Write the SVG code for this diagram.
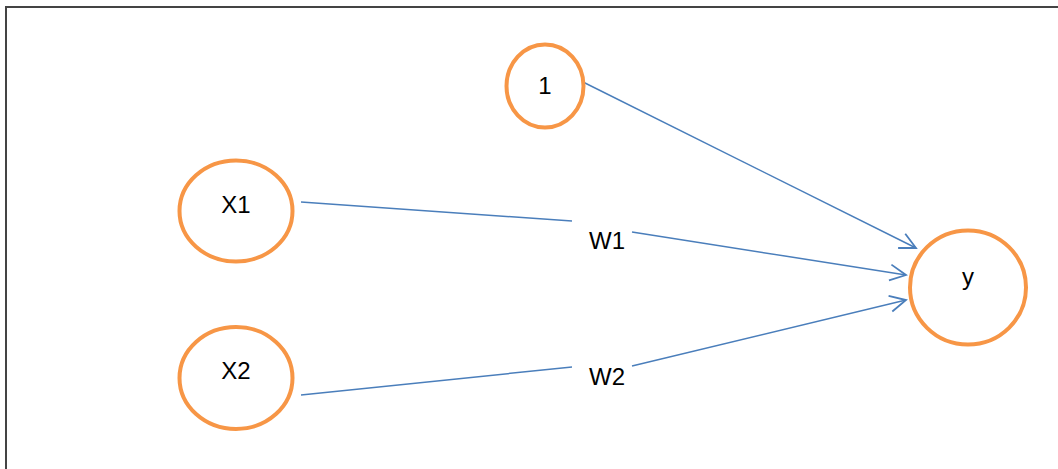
<svg xmlns="http://www.w3.org/2000/svg" width="1058" height="469" viewBox="0 0 1058 469">
<defs>
<style>
.node{fill:#fff;stroke:#F79646;stroke-width:4}
.lbl{font-family:"Liberation Sans",Arial,sans-serif;font-size:24px;fill:#000;text-anchor:middle}
.edge{fill:none;stroke:#4A7EBB;stroke-width:1.5}
</style>
<marker id="arr" markerUnits="userSpaceOnUse" markerWidth="24" markerHeight="24" refX="20" refY="10" orient="auto" viewBox="0 0 24 20">
<path d="M4,2 L20,10 L4,18" fill="none" stroke="#4A7EBB" stroke-width="1.8"/>
</marker>
</defs>
<rect width="1058" height="469" fill="#fff"/>
<path d="M6,469 V7 H1058" fill="none" stroke="#444" stroke-width="2"/>
<g id="connectors">
<line class="edge" x1="583" y1="82" x2="916" y2="248" marker-end="url(#arr)"/>
<line class="edge" x1="301" y1="202" x2="572" y2="221"/>
<line class="edge" x1="632" y1="232" x2="906" y2="275" marker-end="url(#arr)"/>
<line class="edge" x1="301" y1="395" x2="572" y2="367"/>
<line class="edge" x1="632" y1="366" x2="906" y2="300" marker-end="url(#arr)"/>
<text class="lbl" x="607" y="249">W1</text>
<text class="lbl" x="607" y="385">W2</text>
</g>
<g id="node-1">
<ellipse class="node" cx="545" cy="86" rx="38.5" ry="41.5"/>
<text class="lbl" x="545" y="94">1</text>
</g>
<g id="node-x1">
<ellipse class="node" cx="236" cy="211" rx="56.5" ry="50.5"/>
<text class="lbl" x="236" y="213">X1</text>
</g>
<g id="node-x2">
<ellipse class="node" cx="236" cy="378" rx="56.5" ry="51"/>
<text class="lbl" x="236" y="379">X2</text>
</g>
<g id="node-y">
<ellipse class="node" cx="968" cy="287.5" rx="58" ry="57"/>
<text class="lbl" x="968" y="285">y</text>
</g>
</svg>
